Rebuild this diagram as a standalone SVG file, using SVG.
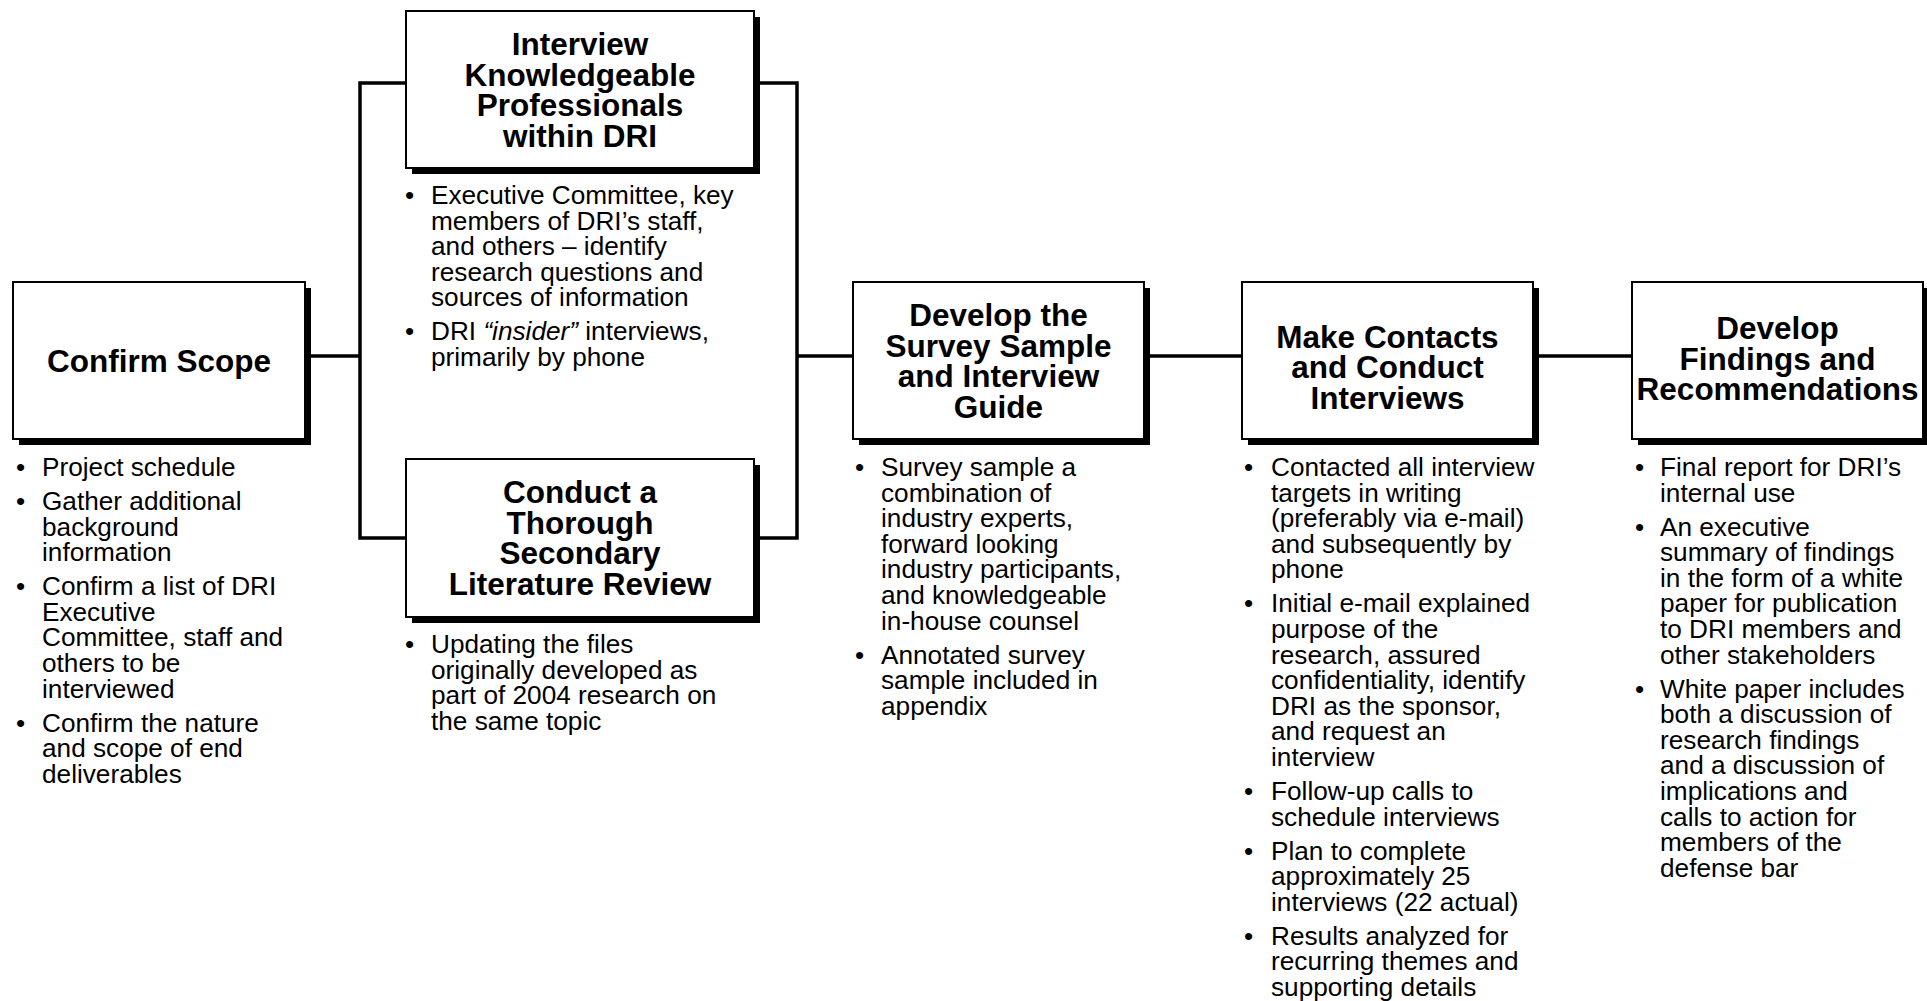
<svg xmlns="http://www.w3.org/2000/svg" width="1927" height="1001" viewBox="0 0 1927 1001">
<defs>
<style>
.box{fill:#fff;stroke:#000;stroke-width:2}
.shadow{fill:#000}
.title{font-family:"Liberation Sans",Arial,sans-serif;font-weight:bold;font-size:31.5px;text-anchor:middle;fill:#000}
.body{font-family:"Liberation Sans",Arial,sans-serif;font-size:26.2px;fill:#000}
.conn{fill:none;stroke:#000;stroke-width:3.5;stroke-linejoin:miter;stroke-linecap:butt}
</style>
</defs>
<rect width="1927" height="1001" fill="#fff"/>

<g id="connectors">
<path class="conn" d="M305,356 H360"/>
<path class="conn" d="M406,83 H360 V538 H406"/>
<path class="conn" d="M754,83 H797 V538 H754"/>
<path class="conn" d="M797,356 H853"/>
<path class="conn" d="M1144,356 H1242"/>
<path class="conn" d="M1533,356 H1632"/>
</g>

<g id="confirm-scope">
<rect class="shadow" x="19" y="288" width="292" height="157"/>
<rect class="box" x="13" y="282" width="292" height="157"/>
<text class="title" x="159" y="371.5">Confirm Scope</text>
<g class="body">
<text x="16" y="476">•</text><text x="42" y="476">Project schedule</text>
<text x="16" y="510">•</text><text y="510"><tspan x="42">Gather additional</tspan><tspan x="42" dy="25.6">background</tspan><tspan x="42" dy="25.6">information</tspan></text>
<text x="16" y="595.2">•</text><text y="595.2"><tspan x="42">Confirm a list of DRI</tspan><tspan x="42" dy="25.6">Executive</tspan><tspan x="42" dy="25.6">Committee, staff and</tspan><tspan x="42" dy="25.6">others to be</tspan><tspan x="42" dy="25.6">interviewed</tspan></text>
<text x="16" y="731.6">•</text><text y="731.6"><tspan x="42">Confirm the nature</tspan><tspan x="42" dy="25.6">and scope of end</tspan><tspan x="42" dy="25.6">deliverables</tspan></text>
</g>
</g>

<g id="interview-professionals">
<rect class="shadow" x="412" y="17" width="348" height="157"/>
<rect class="box" x="406" y="11" width="348" height="157"/>
<text class="title" y="55"><tspan x="580">Interview</tspan><tspan x="580" dy="30.7">Knowledgeable</tspan><tspan x="580" dy="30.7">Professionals</tspan><tspan x="580" dy="30.7">within DRI</tspan></text>
<g class="body">
<text x="405" y="204">•</text><text y="204"><tspan x="431">Executive Committee, key</tspan><tspan x="431" dy="25.6">members of DRI’s staff,</tspan><tspan x="431" dy="25.6">and others – identify</tspan><tspan x="431" dy="25.6">research questions and</tspan><tspan x="431" dy="25.6">sources of information</tspan></text>
<text x="405" y="340.4">•</text><text y="340.4"><tspan x="431">DRI <tspan font-style="italic">“insider”</tspan> interviews,</tspan><tspan x="431" dy="25.6">primarily by phone</tspan></text>
</g>
</g>

<g id="literature-review">
<rect class="shadow" x="412" y="465" width="348" height="158"/>
<rect class="box" x="406" y="459" width="348" height="158"/>
<text class="title" y="503"><tspan x="580">Conduct a</tspan><tspan x="580" dy="30.7">Thorough</tspan><tspan x="580" dy="30.7">Secondary</tspan><tspan x="580" dy="30.7">Literature Review</tspan></text>
<g class="body">
<text x="405" y="653">•</text><text y="653"><tspan x="431">Updating the files</tspan><tspan x="431" dy="25.6">originally developed as</tspan><tspan x="431" dy="25.6">part of 2004 research on</tspan><tspan x="431" dy="25.6">the same topic</tspan></text>
</g>
</g>

<g id="survey-sample">
<rect class="shadow" x="859" y="288" width="291" height="157"/>
<rect class="box" x="853" y="282" width="291" height="157"/>
<text class="title" y="326"><tspan x="998.5">Develop the</tspan><tspan x="998.5" dy="30.7">Survey Sample</tspan><tspan x="998.5" dy="30.7">and Interview</tspan><tspan x="998.5" dy="30.7">Guide</tspan></text>
<g class="body">
<text x="855" y="476">•</text><text y="476"><tspan x="881">Survey sample a</tspan><tspan x="881" dy="25.6">combination of</tspan><tspan x="881" dy="25.6">industry experts,</tspan><tspan x="881" dy="25.6">forward looking</tspan><tspan x="881" dy="25.6">industry participants,</tspan><tspan x="881" dy="25.6">and knowledgeable</tspan><tspan x="881" dy="25.6">in-house counsel</tspan></text>
<text x="855" y="663.6">•</text><text y="663.6"><tspan x="881">Annotated survey</tspan><tspan x="881" dy="25.6">sample included in</tspan><tspan x="881" dy="25.6">appendix</tspan></text>
</g>
</g>

<g id="contacts-interviews">
<rect class="shadow" x="1248" y="288" width="291" height="157"/>
<rect class="box" x="1242" y="282" width="291" height="157"/>
<text class="title" y="347.5"><tspan x="1387.5">Make Contacts</tspan><tspan x="1387.5" dy="30.7">and Conduct</tspan><tspan x="1387.5" dy="30.7">Interviews</tspan></text>
<g class="body">
<text x="1244" y="476">•</text><text y="476"><tspan x="1271">Contacted all interview</tspan><tspan x="1271" dy="25.6">targets in writing</tspan><tspan x="1271" dy="25.6">(preferably via e-mail)</tspan><tspan x="1271" dy="25.6">and subsequently by</tspan><tspan x="1271" dy="25.6">phone</tspan></text>
<text x="1244" y="612.4">•</text><text y="612.4"><tspan x="1271">Initial e-mail explained</tspan><tspan x="1271" dy="25.6">purpose of the</tspan><tspan x="1271" dy="25.6">research, assured</tspan><tspan x="1271" dy="25.6">confidentiality, identify</tspan><tspan x="1271" dy="25.6">DRI as the sponsor,</tspan><tspan x="1271" dy="25.6">and request an</tspan><tspan x="1271" dy="25.6">interview</tspan></text>
<text x="1244" y="800">•</text><text y="800"><tspan x="1271">Follow-up calls to</tspan><tspan x="1271" dy="25.6">schedule interviews</tspan></text>
<text x="1244" y="859.6">•</text><text y="859.6"><tspan x="1271">Plan to complete</tspan><tspan x="1271" dy="25.6">approximately 25</tspan><tspan x="1271" dy="25.6">interviews (22 actual)</tspan></text>
<text x="1244" y="944.8">•</text><text y="944.8"><tspan x="1271">Results analyzed for</tspan><tspan x="1271" dy="25.6">recurring themes and</tspan><tspan x="1271" dy="25.6">supporting details</tspan></text>
</g>
</g>

<g id="findings-recommendations">
<rect class="shadow" x="1638" y="288" width="291" height="157"/>
<rect class="box" x="1632" y="282" width="291" height="157"/>
<text class="title" y="339"><tspan x="1777.5">Develop</tspan><tspan x="1777.5" dy="30.7">Findings and</tspan><tspan x="1777.5" dy="30.7">Recommendations</tspan></text>
<g class="body">
<text x="1635" y="476">•</text><text y="476"><tspan x="1660">Final report for DRI’s</tspan><tspan x="1660" dy="25.6">internal use</tspan></text>
<text x="1635" y="535.6">•</text><text y="535.6"><tspan x="1660">An executive</tspan><tspan x="1660" dy="25.6">summary of findings</tspan><tspan x="1660" dy="25.6">in the form of a white</tspan><tspan x="1660" dy="25.6">paper for publication</tspan><tspan x="1660" dy="25.6">to DRI members and</tspan><tspan x="1660" dy="25.6">other stakeholders</tspan></text>
<text x="1635" y="697.6">•</text><text y="697.6"><tspan x="1660">White paper includes</tspan><tspan x="1660" dy="25.6">both a discussion of</tspan><tspan x="1660" dy="25.6">research findings</tspan><tspan x="1660" dy="25.6">and a discussion of</tspan><tspan x="1660" dy="25.6">implications and</tspan><tspan x="1660" dy="25.6">calls to action for</tspan><tspan x="1660" dy="25.6">members of the</tspan><tspan x="1660" dy="25.6">defense bar</tspan></text>
</g>
</g>
</svg>
